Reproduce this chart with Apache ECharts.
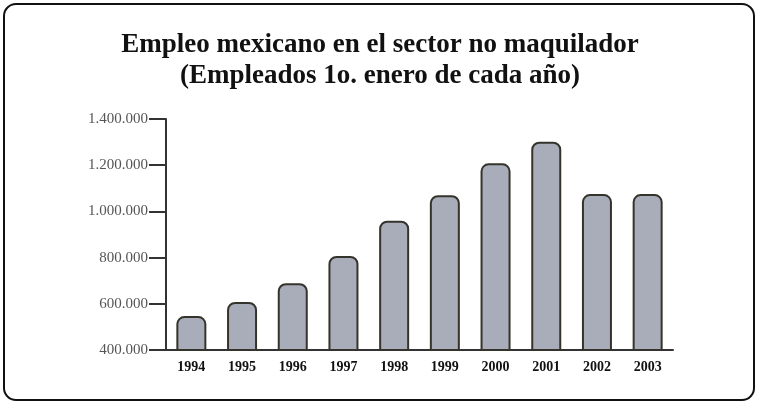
<!DOCTYPE html>
<html>
<head>
<meta charset="utf-8">
<script src="https://cdn.jsdelivr.net/npm/echarts@6/dist/echarts.min.js"></script>
<style>
html,body{margin:0;padding:0;background:#fff;}
#main{width:758px;height:405px;}
</style>
</head>
<body>
<div id="main"></div>
<script>
// datos
var years=['1994','1995','1996','1997','1998','1999','2000','2001','2002','2003'];
var empleados=[547000,608000,689000,807000,960000,1070000,1208000,1302000,1075000,1075000];
var yTicks=[400000,600000,800000,1000000,1200000,1400000];
var titulo='Empleo mexicano en el sector no maquilador';
var subtitulo='(Empleados 1o. enero de cada año)';

function fmt(v){
    return String(v).replace(/\B(?=(\d{3})+(?!\d))/g,'.');
}

var chart=echarts.init(document.getElementById('main'));
var tStyle={fontFamily:'Liberation Serif',fontWeight:'bold',fontSize:27,fill:'#111',align:'center',verticalAlign:'middle'};
chart.setOption({
    backgroundColor:'#fff',
    animation:false,
    graphic:[{
        type:'rect',
        shape:{x:4,y:4,width:750,height:396,r:12},
        style:{fill:'none',stroke:'#111',lineWidth:2},
        silent:true
    },{
        type:'text',x:380,y:45,
        style:Object.assign({text:titulo},tStyle)
    },{
        type:'text',x:380,y:76,
        style:Object.assign({text:subtitulo},tStyle)
    }],
    grid:{left:166,right:85,top:119,bottom:55},
    xAxis:{
        type:'category',
        data:years,
        axisLine:{lineStyle:{color:'#333',width:2}},
        axisTick:{show:false},
        axisLabel:{
            fontFamily:'Liberation Serif',
            fontSize:14,
            fontWeight:'bold',
            color:'#111',
            margin:10
        }
    },
    yAxis:{
        type:'value',
        min:yTicks[0],
        max:yTicks[yTicks.length-1],
        interval:200000,
        splitLine:{show:false},
        axisLine:{show:true,lineStyle:{color:'#333',width:2}},
        axisTick:{show:true,length:17,lineStyle:{color:'#333',width:2}},
        axisLabel:{
            fontFamily:'Liberation Serif',
            fontSize:15,
            color:'#555',
            margin:18,
            formatter:function(v){return fmt(v);}
        }
    },
    series:[{
        type:'bar',
        data:empleados,
        barWidth:30,
        itemStyle:{
            color:'#a9acb9',
            borderColor:'#35342c',
            borderWidth:2,
            borderRadius:[7,7,0,0]
        }
    }]
});
</script>
</body>
</html>
